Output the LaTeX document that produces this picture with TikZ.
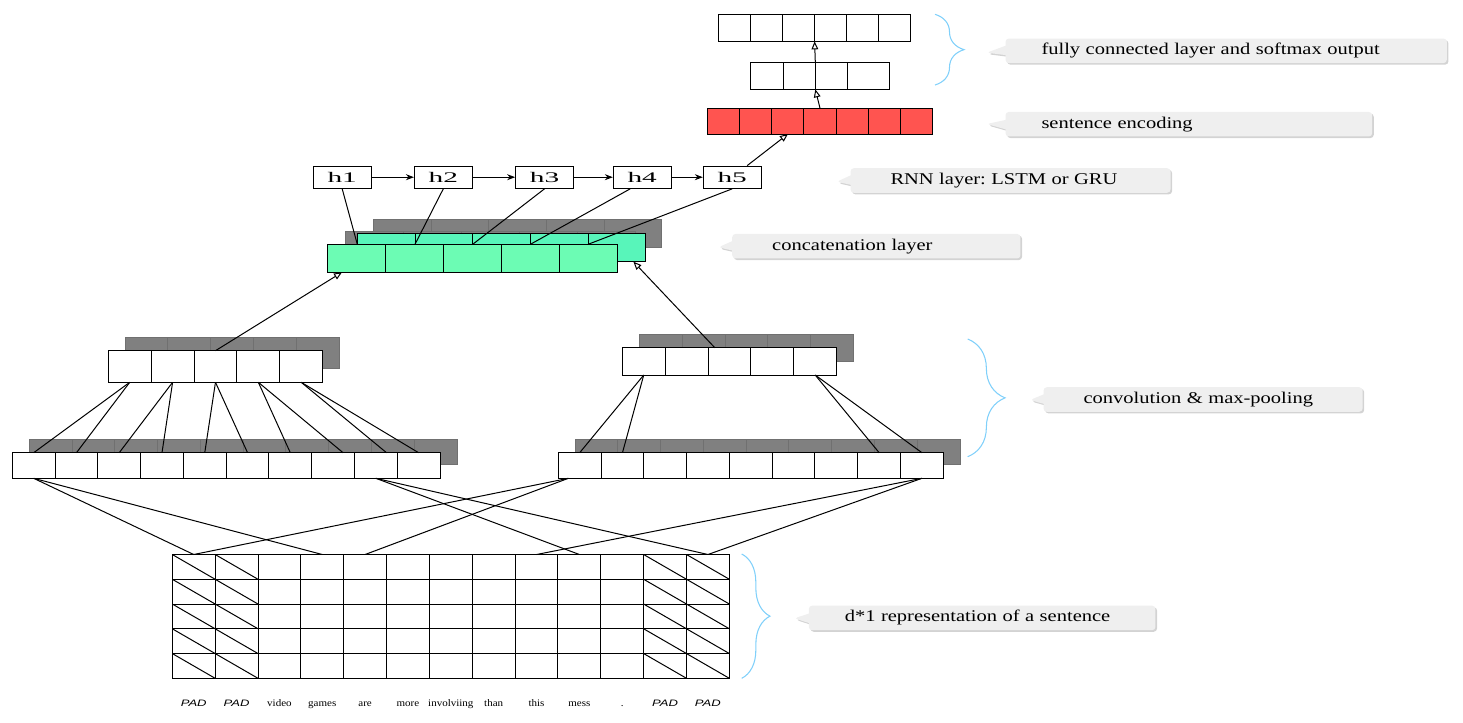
\documentclass[tikz,border=0pt]{standalone}
\usepackage{fontspec}
\usepackage{tikz}
\usetikzlibrary{positioning,arrows.meta,shapes.callouts,shadows,decorations.pathreplacing}
\usepackage{xcolor}
\newfontfamily\callfont{Liberation Serif}[FakeStretch=1.25]
\newfontfamily\hfont{Liberation Serif}[FakeStretch=2.0]
\newfontfamily\wordfont{Liberation Serif}[FakeStretch=1.1]
\newfontfamily\padfont{Liberation Sans}[FakeStretch=1.4]
\definecolor{encred}{RGB}{255,84,80}
\definecolor{frontgreen}{RGB}{108,252,180}
\definecolor{backgreen}{RGB}{88,245,186}
\definecolor{shadowgray}{RGB}{128,128,128}
\definecolor{braceblue}{RGB}{128,208,250}
\definecolor{callgray}{RGB}{239,239,239}
\tikzset{every picture/.style={line width=0.75pt}}

\begin{document}
\begin{tikzpicture}[x=0.75pt,y=0.75pt,yscale=-1,xscale=1,
  cell/.style={draw, fill=white, inner sep=0pt, outer sep=0pt, anchor=north west},
  shadecell/.style={draw=black!56, fill=shadowgray, inner sep=0pt, outer sep=0pt, anchor=north west},
  hbox/.style={draw, fill=white, minimum width=43.3pt, minimum height=16.7pt, inner sep=0pt, font=\hfont\fontsize{11}{12}\selectfont},
  tri/.style={-{Triangle[open,length=6pt,width=5pt]}},
  stl/.style={-{Stealth[length=6pt,width=4.5pt]}},
  cbrace/.style={draw=braceblue, line width=0.8pt, decorate, decoration={brace, amplitude=#1}},
  callbox/.style={rectangle callout, fill=callgray, rounded corners=2.5pt, callout pointer width=7pt, inner xsep=30pt, inner ysep=0pt, minimum height=18.4pt, align=left, anchor=west, font=\callfont\fontsize{12.3}{14}\selectfont\frenchspacing, drop shadow={shadow xshift=1.2pt, shadow yshift=-1.2pt, opacity=0.35}},
  word/.style={font=\wordfont\fontsize{7.5}{8}\selectfont, inner sep=0pt, anchor=base},
  padword/.style={font=\padfont\itshape\fontsize{7}{8}\selectfont, inner sep=0pt, anchor=base}
]
\useasboundingbox (0,0) rectangle (1463,722);

%Softmax output row
\foreach \i in {1,...,6}
  \node[cell, minimum width=24.1pt, minimum height=20.5pt] (soft\i) at ({718.3+32.1*(\i-1)},14) {};
%Fully connected row
\foreach \i/\x/\w in {1/750.7/24.45pt,2/783.3/24pt,3/815.3/24pt,4/847.3/32pt}
  \node[cell, minimum width=\w, minimum height=20.5pt] (full\i) at (\x,62) {};
%Sentence encoding row
\foreach \i in {1,...,7}
  \node[cell, fill=encred, minimum width=24.07pt, minimum height=19.3pt] (enc\i) at ({707.7+32.09*(\i-1)},108.3) {};
\draw[tri] (enc4.north) -- (full3.south west);
\draw[tri] (full3.north west) -- (soft4.south west);

%RNN states
\foreach \i/\x in {1/342.2,2/443.3,3/544.5,4/642.2,5/732.2}
  \node[hbox] (h\i) at (\x,177.2) {h\i};
\foreach \i/\j in {1/2,2/3,3/4,4/5}
  \draw[stl] (h\i) -- (h\j);
\draw[tri] (h5) -- (enc3.south);

%Concatenation layer
\foreach \i in {1,...,5} {
  \node[shadecell, minimum width=43.3pt, minimum height=21.3pt] (sb\i) at ({373.3+57.7*(\i-1)},219.3) {};
  \node[shadecell, minimum width=43.5pt, minimum height=21pt] (sf\i) at ({345+58*(\i-1)},231) {};
}
\foreach \i in {1,...,5}
  \node[cell, fill=backgreen, minimum width=43.3pt, minimum height=21.3pt] (cb\i) at ({357.3+57.7*(\i-1)},233.3) {};
\foreach \i in {1,...,5}
  \node[cell, fill=frontgreen, minimum width=43.5pt, minimum height=21pt] (cf\i) at ({327.3+58*(\i-1)},244.3) {};
\foreach \i/\s in {1/0pt,2/0pt,3/0pt,4/-9pt,5/0pt}
  \draw ([xshift=\s]h\i.south) -- (cb\i.south west |- cf1.north);

%Max-pooling rows
\foreach \i in {1,...,5} {
  \node[shadecell, minimum width=32.15pt, minimum height=23.7pt] (spl\i) at ({125+42.87*(\i-1)},337.3) {};
  \node[shadecell, minimum width=32.15pt, minimum height=20.5pt] (spr\i) at ({639.3+42.87*(\i-1)},334.3) {};
}
\foreach \i in {1,...,5} {
  \node[cell, minimum width=32.15pt, minimum height=23.7pt] (pl\i) at ({108.3+42.87*(\i-1)},350.7) {};
  \node[cell, minimum width=32.15pt, minimum height=20.5pt] (pr\i) at ({622.3+42.87*(\i-1)},347.7) {};
}
\draw[tri] (pl3.north) -- ([xshift=11pt]cf1.south west);
\draw[tri] ([xshift=-11pt]pr3.north) -- ([xshift=-9.3pt]cb5.south east);

%Convolution rows
\foreach \i in {1,...,10}
  \node[shadecell, minimum width=32.08pt, minimum height=19.2pt] (scl\i) at ({29.3+42.77*(\i-1)},439.3) {};
\foreach \i in {1,...,9}
  \node[shadecell, minimum width=32.08pt, minimum height=19.2pt] (scr\i) at ({575+42.78*(\i-1)},439.3) {};
\foreach \i in {1,...,10}
  \node[cell, minimum width=32.08pt, minimum height=19.2pt] (cl\i) at ({12.3+42.77*(\i-1)},452.7) {};
\foreach \i in {1,...,9}
  \node[cell, minimum width=32.08pt, minimum height=19.2pt] (cr\i) at ({558.3+42.78*(\i-1)},452.7) {};
\foreach \p/\c/\s in {1/1/0pt,1/2/0pt,2/3/0pt,2/4/0pt,3/5/0pt,3/6/0pt,4/7/0pt,4/8/7.5pt,5/9/8pt,5/10/0pt}
  \draw (pl\p.south) -- ([xshift=\s]cl\c.north);
\foreach \p/\c in {1/1,1/2,5/8,5/9}
  \draw (pr\p.south) -- (cr\c.north);

%Sentence matrix
\foreach \c in {1,...,13}
  \foreach \r in {1,...,5}
    \node[cell, minimum width=32.14pt, minimum height=18.57pt] (g-\c-\r) at ({172.3+42.85*(\c-1)},{554.5+24.76*(\r-1)}) {};
\foreach \c in {1,2,12,13}
  \foreach \r in {1,...,5}
    \draw (g-\c-\r.north west) -- (g-\c-\r.south east);
\foreach \c in {1,4}
  \draw (cl1.south) -- (g-\c-1.north);
\foreach \c in {10,13}
  \draw (cl9.south) -- (g-\c-1.north);
\foreach \c in {1,5}
  \draw ([xshift=-8.5pt]cr1.south) -- (g-\c-1.north);
\foreach \c in {9,13}
  \draw (cr9.south) -- (g-\c-1.north);

% Text Node
\foreach \c in {1,2,12,13}
  \node[padword] (w\c) at ({172.3+42.85*(\c-0.5)},706) {PAD};
\foreach \c/\t in {3/video,4/games,5/are,6/more,7/involviing,8/than,9/this,10/mess,11/.}
  \node[word] (w\c) at ({172.3+42.85*(\c-0.5)},706) {\t};

%Braces
\draw[cbrace=21.75pt] (935,14.3) -- (935,85);
\draw[cbrace=28pt] (967.7,339) -- (967.7,456.7);
\draw[cbrace=21.2pt] (741.7,554) -- (741.7,678.3);

%Callouts
\coordinate (t1) at (986.7,52.7);
\coordinate (t2) at (986.7,124);
\coordinate (t3) at (836.7,181.7);
\coordinate (t4) at (718.3,247.3);
\coordinate (t5) at (1030,400);
\coordinate (t6) at (794.3,618.3);
\node[callbox, inner xsep=27pt, text width=277pt, callout absolute pointer={(t1)}] (c1) at (1005,50.8) {fully connected layer and softmax output};
\node[callbox, inner xsep=27pt, text width=221pt, callout absolute pointer={(t2)}] (c2) at (1005,124.2) {sentence encoding};
\node[callbox, text width=180pt, callout absolute pointer={(t3)}] (c3) at (850,180.5) {RNN layer: LSTM or GRU};
\node[callbox, text width=156.2pt, callout absolute pointer={(t4)}] (c4) at (731.7,246.2) {concatenation layer};
\node[callbox, text width=179.3pt, callout absolute pointer={(t5)}] (c5) at (1043,399.5) {convolution \& max-pooling};
\node[callbox, inner xsep=27pt, text width=206pt, callout absolute pointer={(t6)}] (c6) at (808.3,617.9) {d*1 representation of a sentence};

\end{tikzpicture}
\end{document}
